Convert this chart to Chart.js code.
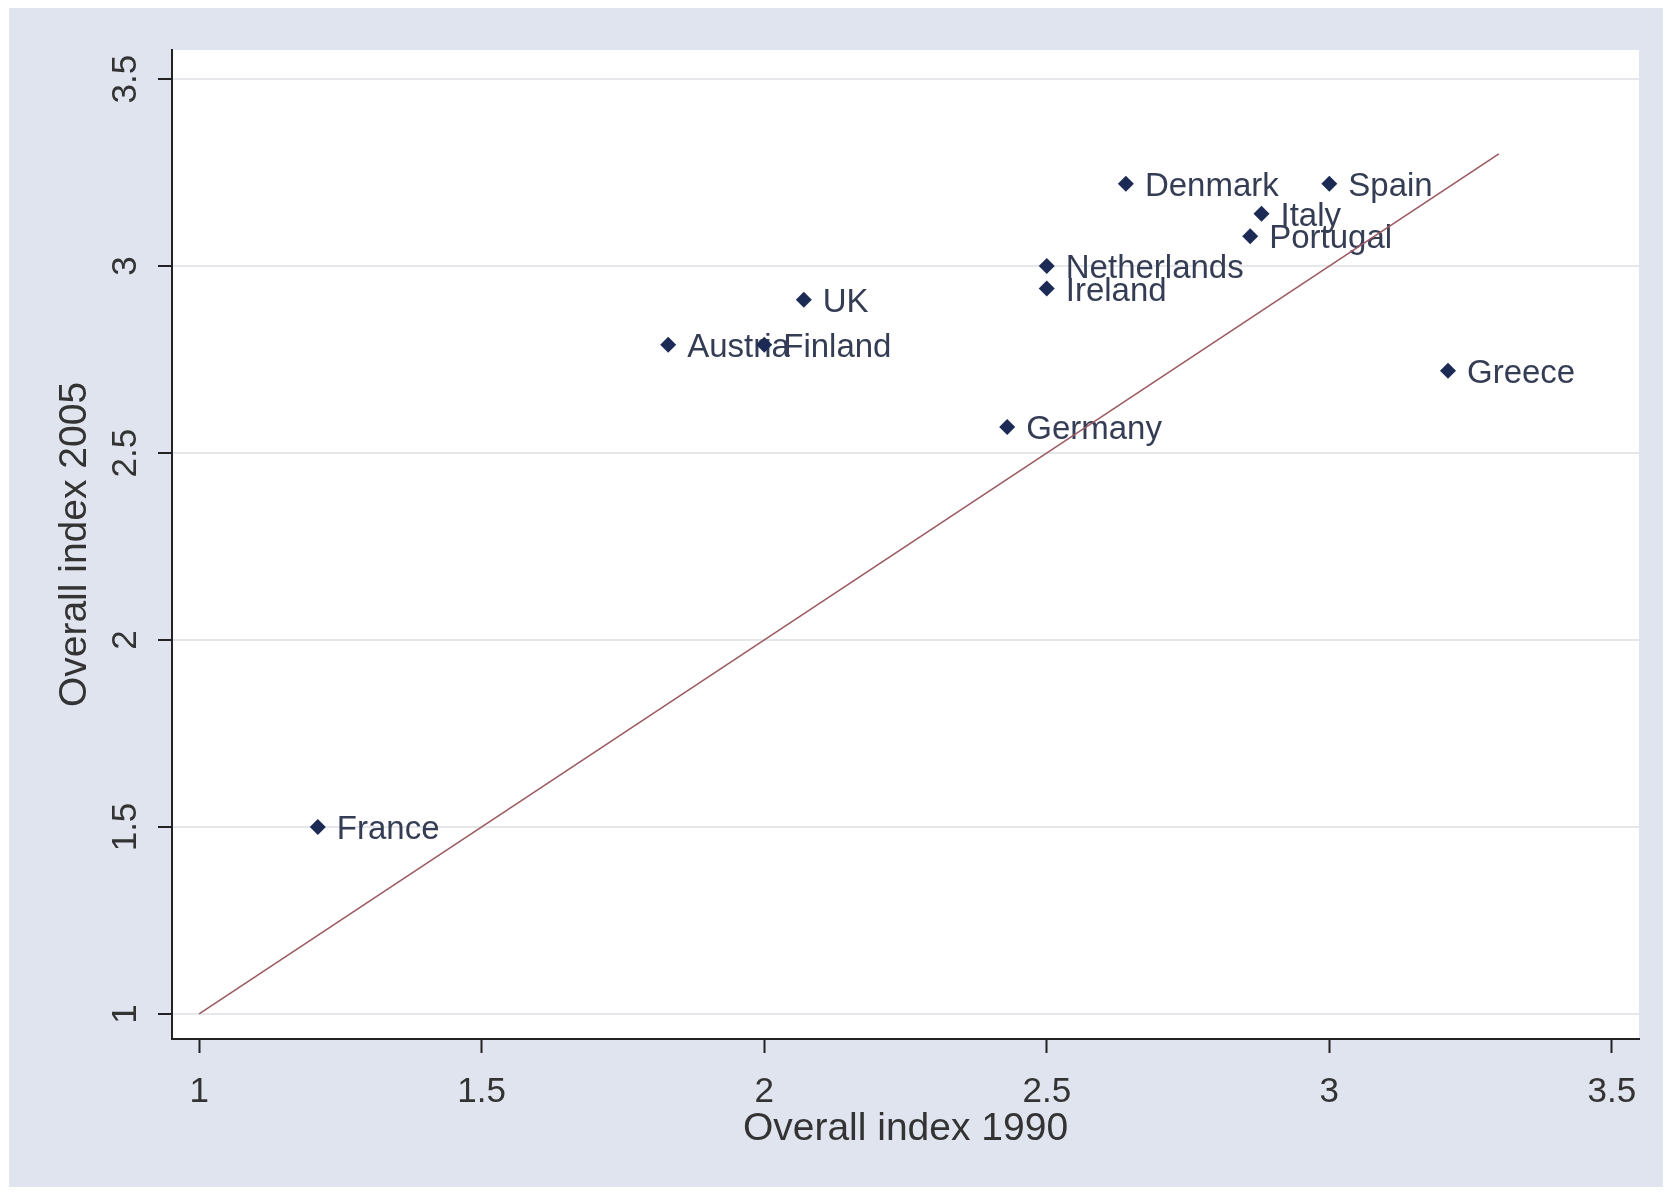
<!DOCTYPE html>
<html>
<head>
<meta charset="utf-8">
<title>Overall index 1990 vs 2005</title>
<script src="https://cdn.jsdelivr.net/npm/chart.js@4/dist/chart.umd.min.js"></script>
<style>
  html, body { margin: 0; padding: 0; background: #ffffff; }
  canvas { display: block; }
</style>
</head>
<body>
<canvas id="scatter" width="1680" height="1197"></canvas>
<script>
// data
const countries = ['France', 'Austria', 'Finland', 'UK', 'Germany', 'Netherlands',
                   'Ireland', 'Denmark', 'Italy', 'Portugal', 'Spain', 'Greece'];
const index1990 = [1.21, 1.83, 2.00, 2.07, 2.43, 2.50, 2.50, 2.64, 2.88, 2.86, 3.00, 3.21];
const index2005 = [1.50, 2.79, 2.79, 2.91, 2.57, 3.00, 2.94, 3.22, 3.14, 3.08, 3.22, 2.72];

// 45 degree reference line
const refLineX = [1, 3.3];
const refLineY = [1, 3.3];

const xTicks = [1, 1.5, 2, 2.5, 3, 3.5];
const xTickLabels = ['1', '1.5', '2', '2.5', '3', '3.5'];
const yTicks = [1, 1.5, 2, 2.5, 3, 3.5];
const yTickLabels = ['1', '1.5', '2', '2.5', '3', '3.5'];

const FONT = "'Liberation Sans', Arial, sans-serif";
const AXIS_COLOR = '#222222';
const TEXT_COLOR = '#333333';

// stata-ish background panel + white plot region
const backgroundPlugin = {
    id: 'stataBackground',
    beforeDraw(chart) {
        const ctx = chart.ctx;
        const area = chart.chartArea;
        ctx.save();
        ctx.fillStyle = '#e0e4ef';
        ctx.fillRect(9, 8, 1654, 1179);
        ctx.fillStyle = '#ffffff';
        ctx.fillRect(area.left, area.top, area.right - area.left, area.bottom - area.top);
        ctx.restore();
    }
};

// country names next to each marker (drawn under the markers, like the original)
const pointLabelPlugin = {
    id: 'pointLabels',
    beforeDatasetsDraw(chart) {
        const ctx = chart.ctx;
        const meta = chart.getDatasetMeta(1);
        ctx.save();
        ctx.font = '33px ' + FONT;
        ctx.fillStyle = '#353d55';
        ctx.textAlign = 'left';
        ctx.textBaseline = 'middle';
        meta.data.forEach((pt, i) => {
            ctx.fillText(countries[i], pt.x + 19, pt.y + 3);
        });
        ctx.restore();
    }
};

const scatterPoints = index1990.map((v, i) => ({ x: v, y: index2005[i] }));
const refLine = refLineX.map((v, i) => ({ x: v, y: refLineY[i] }));

const ctx = document.getElementById('scatter').getContext('2d');
const chart = new Chart(ctx, {
    type: 'scatter',
    data: {
        datasets: [
            {
                type: 'line',
                label: '45 degree line',
                data: refLine,
                borderColor: '#9c5a62',
                borderWidth: 1.6,
                pointRadius: 0,
                fill: false
            },
            {
                label: 'Countries',
                data: scatterPoints,
                pointStyle: 'rectRot',
                pointRadius: 8,
                backgroundColor: '#1c2b55',
                borderColor: '#1c2b55',
                borderWidth: 0
            }
        ]
    },
    options: {
        responsive: false,
        devicePixelRatio: 1,
        animation: false,
        layout: {
            padding: { top: 50, right: 41, bottom: 0, left: 0 }
        },
        plugins: {
            legend: { display: false },
            tooltip: { enabled: false }
        },
        scales: {
            x: {
                type: 'linear',
                min: 0.952,
                max: 3.548,
                afterFit: s => { s.height = 158; },
                afterBuildTicks: s => { s.ticks = xTicks.map(v => ({ value: v })); },
                ticks: {
                    color: TEXT_COLOR,
                    font: { family: FONT, size: 35 },
                    padding: 18,
                    maxRotation: 0,
                    callback: (v, i) => xTickLabels[i]
                },
                grid: {
                    drawOnChartArea: false,
                    tickLength: 14,
                    tickColor: AXIS_COLOR,
                    tickWidth: 2
                },
                border: { color: AXIS_COLOR, width: 2 },
                title: {
                    display: true,
                    text: 'Overall index 1990',
                    color: TEXT_COLOR,
                    font: { family: FONT, size: 39 },
                    padding: { top: 0, bottom: 44 }
                }
            },
            y: {
                type: 'linear',
                min: 0.933,
                max: 3.578,
                afterFit: s => { s.width = 172; },
                afterBuildTicks: s => { s.ticks = yTicks.map(v => ({ value: v })); },
                ticks: {
                    color: TEXT_COLOR,
                    font: { family: FONT, size: 35 },
                    padding: 7,
                    minRotation: 90,
                    maxRotation: 90,
                    crossAlign: 'center',
                    callback: (v, i) => yTickLabels[i]
                },
                grid: {
                    color: '#e6e7ea',
                    lineWidth: 2,
                    tickLength: 14,
                    tickColor: AXIS_COLOR,
                    tickWidth: 2
                },
                border: { color: AXIS_COLOR, width: 2 },
                title: {
                    display: true,
                    text: 'Overall index 2005',
                    color: TEXT_COLOR,
                    font: { family: FONT, size: 39 },
                    padding: { top: 52, bottom: 0 }
                }
            }
        }
    },
    plugins: [backgroundPlugin, pointLabelPlugin]
});
</script>
</body>
</html>
